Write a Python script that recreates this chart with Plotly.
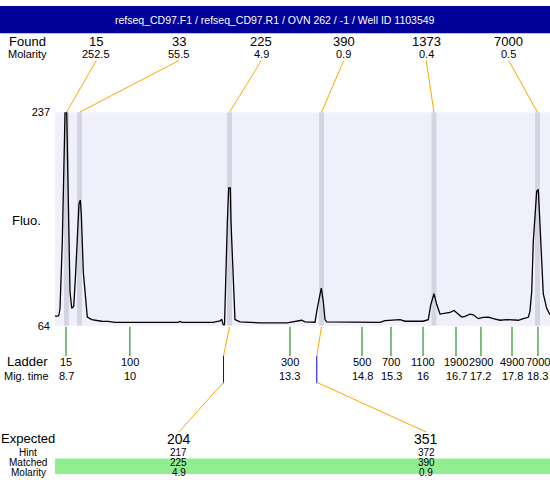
import plotly.graph_objects as go

# ---------------- data ----------------
title_text = "refseq_CD97.F1 / refseq_CD97.R1 / OVN 262 / -1 / Well ID 1103549"

trace_time = [8.476, 8.537, 8.558, 8.578, 8.625, 8.653, 8.680, 8.714, 8.735, 8.761,
              8.781, 8.816, 8.857, 8.897, 8.930, 8.964, 8.991, 9.011, 9.052, 9.101,
              9.133, 9.223, 9.324, 9.426, 9.554, 9.697, 10.409, 10.978, 11.019, 11.059,
              11.690, 11.832, 11.867, 11.899, 11.924, 11.954, 11.981, 12.009, 12.042, 12.056,
              12.083, 12.103, 12.137, 12.239, 12.646, 13.195, 13.494, 13.561, 13.765, 13.811,
              13.846, 13.893, 13.934, 13.968, 14.003, 15.087, 15.188, 15.494, 15.595, 15.961,
              16.069, 16.118, 16.185, 16.240, 16.307, 16.409, 16.511, 16.592, 16.647, 16.749,
              16.816, 16.917, 16.984, 17.086, 17.188, 17.290, 17.391, 17.528, 17.664, 17.900,
              18.002, 18.104, 18.138, 18.173, 18.205, 18.240, 18.274, 18.307, 18.341, 18.376,
              18.408, 18.477, 18.545]
trace_fluo = [71.9, 71.9, 72.9, 78.2, 132.2, 191.4, 237.0, 237.0, 178.6, 115.4,
              91.7, 78.2, 79.8, 107.5, 139.1, 162.8, 165.9, 154.9, 107.5, 80.8,
              71.1, 69.0, 68.2, 67.7, 67.6, 66.8, 66.8, 66.8, 67.6, 66.8,
              66.8, 68.0, 69.0, 64.8, 64.8, 119.3, 147.0, 175.8, 175.8, 148.0,
              119.3, 95.6, 69.0, 67.2, 66.4, 66.4, 68.5, 67.2, 66.9, 78.2,
              86.1, 94.6, 83.5, 69.0, 67.2, 66.8, 68.2, 69.0, 67.7, 67.7,
              69.0, 80.8, 90.1, 81.4, 73.5, 74.3, 74.8, 76.4, 74.3, 71.1,
              71.7, 73.5, 72.9, 69.8, 70.9, 71.1, 69.8, 68.5, 69.0, 68.5,
              69.8, 70.9, 75.9, 91.7, 132.2, 149.3, 173.0, 174.6, 146.7, 109.8,
              90.1, 78.2, 72.9]

found_sizes = ["15", "33", "225", "390", "1373", "7000"]
found_molarity = ["252.5", "55.5", "4.9", "0.9", "0.4", "0.5"]
found_time = [8.710, 8.975, 12.026, 13.897, 16.185, 18.290]

ladder_sizes = ["15", "100", "300", "500", "700", "1100", "1900", "2900", "4900", "7000"]
ladder_mig_labels = ["8.7", "10", "13.3", "14.8", "15.3", "16", "16.7", "17.2", "17.8", "18.3"]
ladder_time = [8.70, 10.00, 13.256, 14.721, 15.311, 15.962, 16.633, 17.141, 17.772, 18.30]

expected_sizes = ["204", "351"]
expected_hint = ["217", "372"]
expected_matched = ["225", "390"]
expected_molarity = ["4.9", "0.9"]
expected_marker_time = [11.904, 13.801]

x_range = [8.476, 18.545]
y_range = [64, 237]

# ---------------- layout helpers ----------------
W, H = 550, 480
FONT = "Liberation Sans, Arial, sans-serif"


def px(x):
    return x / W


def py(y):
    return 1 - y / H


def slot_time(i, n):
    return x_range[0] + (i + 0.5) / n * (x_range[1] - x_range[0])


def text(x, y, s, size, xref="paper", color="black"):
    return dict(xref=xref, yref="paper", x=x, y=y, text=s, showarrow=False,
                xanchor="center", yanchor="middle", borderpad=0,
                font=dict(size=size, family=FONT, color=color))


fig = go.Figure()
fig.add_trace(go.Scatter(x=trace_time, y=trace_fluo, mode="lines",
                         line=dict(color="black", width=1.3),
                         hoverinfo="skip", showlegend=False))

shapes = []
annots = []

# header bar
shapes.append(dict(type="rect", xref="paper", yref="paper", x0=0, x1=1,
                   y0=py(28), y1=1, fillcolor="#000099", line=dict(width=0)))
annots.append(text(0.5, py(14), title_text, 10.5, color="white"))

# peak bands
for t in found_time:
    shapes.append(dict(type="rect", xref="x", yref="y", x0=t - 0.05, x1=t + 0.05,
                       y0=y_range[0], y1=y_range[1], fillcolor="#d4d4e2",
                       line=dict(width=0), layer="below"))

# Found row
annots.append(text(px(27), py(36), "Found", 13))
annots.append(text(px(27), py(49), "Molarity", 11))
n = len(found_sizes)
for i, (s, m, t) in enumerate(zip(found_sizes, found_molarity, found_time)):
    st = slot_time(i, n)
    annots.append(text(st, py(36), s, 13, xref="x"))
    annots.append(text(st, py(49), m, 11, xref="x"))
    shapes.append(dict(type="line", xref="x", yref="paper", x0=st, y0=py(56),
                       x1=t, y1=py(109), line=dict(color="orange", width=1)))

# Fluo label
annots.append(text(px(26.5), py(220), "Fluo.", 13))

# Ladder
annots.append(text(px(27), py(365), "Ladder", 13))
annots.append(text(px(26), py(379), "Mig. time", 11))
for s, ml, t in zip(ladder_sizes, ladder_mig_labels, ladder_time):
    shapes.append(dict(type="line", xref="x", yref="paper", x0=t, x1=t,
                       y0=py(329), y1=py(359), line=dict(color="#007a00", width=1)))
    annots.append(text(t, py(365), s, 11, xref="x"))
    annots.append(text(t, py(379), ml, 11, xref="x"))

# Expected section
shapes.append(dict(type="rect", xref="paper", yref="paper", x0=px(55), x1=1,
                   y0=py(480), y1=py(464), fillcolor="#90ee90", line=dict(width=0),
                   layer="below"))
annots.append(text(px(28), py(444), "Expected", 13))
rows = (("Hint", 457.5), ("Matched", 468), ("Molarity", 478))
for lab, yy in rows:
    annots.append(text(px(28), py(yy), lab, 10))
ne = len(expected_sizes)
for i in range(ne):
    st = x_range[0] + (2 * i + 1) / (2 * ne) * (x_range[1] - x_range[0])
    peak_t = found_time[found_sizes.index(expected_matched[i])]
    mk = expected_marker_time[i]
    shapes.append(dict(type="line", xref="x", yref="paper", x0=peak_t, y0=py(329),
                       x1=mk, y1=py(359), line=dict(color="orange", width=1)))
    shapes.append(dict(type="line", xref="x", yref="paper", x0=mk, y0=py(359),
                       x1=mk, y1=py(387), line=dict(color="blue", width=1)))
    shapes.append(dict(type="line", xref="x", yref="paper", x0=mk, y0=py(386),
                       x1=st, y1=py(437), line=dict(color="orange", width=1)))
    annots.append(text(st, py(444), expected_sizes[i], 14, xref="x"))
    for vals, (lab, yy) in zip((expected_hint, expected_matched, expected_molarity), rows):
        annots.append(text(st, py(yy), vals[i], 10, xref="x"))

fig.update_layout(
    width=W, height=H, autosize=False,
    margin=dict(l=0, r=0, t=0, b=0, pad=0),
    paper_bgcolor="white", plot_bgcolor="#f0f0fc",
    shapes=shapes, annotations=annots, showlegend=False,
    xaxis=dict(range=x_range, domain=[px(55), 1], showgrid=False, zeroline=False,
               showticklabels=False, showline=False, fixedrange=True),
    yaxis=dict(range=y_range, domain=[py(328), py(109)], showgrid=False, zeroline=False,
               tickvals=y_range, ticktext=[str(v) for v in y_range], ticks="",
               ticklabelstandoff=4, tickfont=dict(size=11, family=FONT, color="black"),
               showline=False, fixedrange=True),
)

fig.write_html("out.html", config={"displayModeBar": False},
               post_script="document.body.style.margin='0';")
